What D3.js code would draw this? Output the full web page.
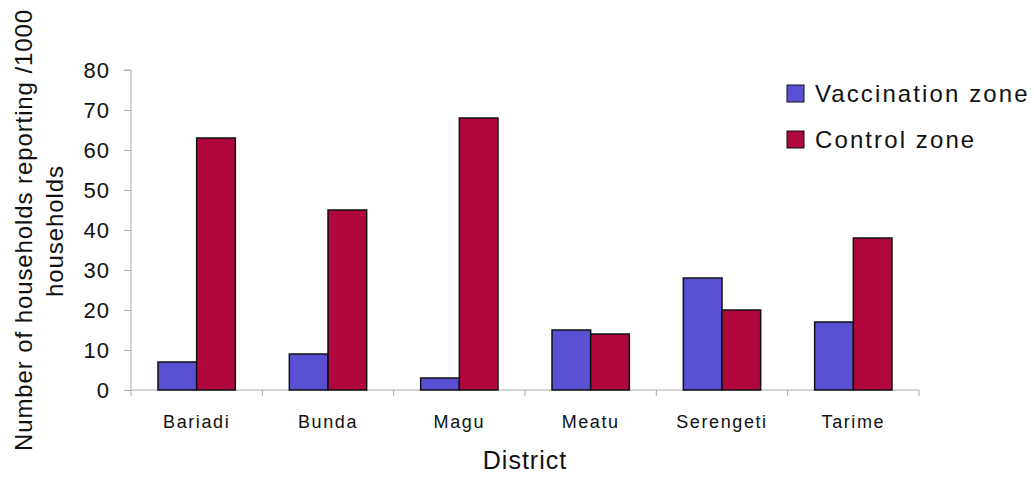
<!DOCTYPE html>
<html><head><meta charset="utf-8">
<script src="https://cdn.jsdelivr.net/npm/d3@7"></script>
<style>body{margin:0;background:#fff}svg{display:block}text{font-family:"Liberation Sans",Arial,sans-serif;fill:#111}</style>
</head><body>
<svg id="c" width="1034" height="477"></svg>
<script>
const categories = ["Bariadi","Bunda","Magu","Meatu","Serengeti","Tarime"];
const seriesNames = ["Vaccination zone","Control zone"];
const vaccination = [7, 9, 3, 15, 28, 17];
const control = [63, 45, 68, 14, 20, 38];
const yTicks = [0,10,20,30,40,50,60,70,80];
const colors = ["#5a50d4","#b0073c"];

const svg = d3.select("#c");
const m = {l:131, r:919, t:70, b:390};
const x = d3.scaleBand().domain(categories).range([m.l, m.r]).paddingInner(0).paddingOuter(0);
const x1 = d3.scaleBand().domain(seriesNames).range([27, x.bandwidth()-27]);
const y = d3.scaleLinear().domain([0,80]).range([m.b, m.t]);

// y axis
const ya = svg.append("g").attr("transform",`translate(${m.l},0)`)
  .call(d3.axisLeft(y).tickValues(yTicks).tickSize(7).tickPadding(14));
ya.select(".domain").attr("stroke","#aaa").attr("d",`M-7,${m.t}H0V${m.b}`);
ya.selectAll(".tick line").attr("stroke","#aaa");
ya.selectAll(".tick text").attr("font-size",22).attr("letter-spacing",1).style("font-family","Liberation Sans, Arial").attr("fill","#111");

// x axis
const xa = svg.append("g").attr("transform",`translate(0,${m.b})`)
  .call(d3.axisBottom(x).tickSize(0).tickPadding(25));
xa.select(".domain").attr("stroke","#aaa").attr("d",`M${m.l},0H${m.r}`);
xa.selectAll(".tick text").attr("font-size",18).attr("letter-spacing",1.6).attr("fill","#111");
const bounds = categories.map((c,i)=>x(c)).concat([m.r]);
xa.selectAll("line.sep").data(bounds).enter().append("line").attr("class","sep")
  .attr("x1",d=>d).attr("x2",d=>d).attr("y1",0).attr("y2",6).attr("stroke","#aaa");

// bars
const data = categories.map((c,i)=>({c, vals:[vaccination[i], control[i]]}));
const g = svg.append("g");
data.forEach(d=>{
  d.vals.forEach((v,j)=>{
    g.append("rect")
      .attr("x", x(d.c)+x1(seriesNames[j]))
      .attr("y", y(v))
      .attr("width", x1.bandwidth())
      .attr("height", y(0)-y(v))
      .attr("fill", colors[j]).attr("stroke","#111").attr("stroke-width",1.5);
  });
});

// titles
svg.append("text").attr("x",(m.l+m.r)/2).attr("y",469).attr("text-anchor","middle").attr("font-size",25).attr("letter-spacing",1).text("District");
svg.append("text").attr("transform","translate(32,230) rotate(-90)").attr("text-anchor","middle").attr("font-size",24).attr("letter-spacing",0.9).text("Number of households reporting /1000");
svg.append("text").attr("transform","translate(63,231) rotate(-90)").attr("text-anchor","middle").attr("font-size",24).attr("letter-spacing",0.9).text("households");

// legend
const lg = svg.append("g").attr("transform","translate(787,85)");
seriesNames.forEach((s,i)=>{
  lg.append("rect").attr("x",0).attr("y",i*46).attr("width",17).attr("height",17).attr("fill",colors[i]).attr("stroke","#111").attr("stroke-width",1);
  lg.append("text").attr("x",28).attr("y",i*46+17).attr("font-size",24).attr("letter-spacing",2.1).text(s);
});
</script>
</body></html>
